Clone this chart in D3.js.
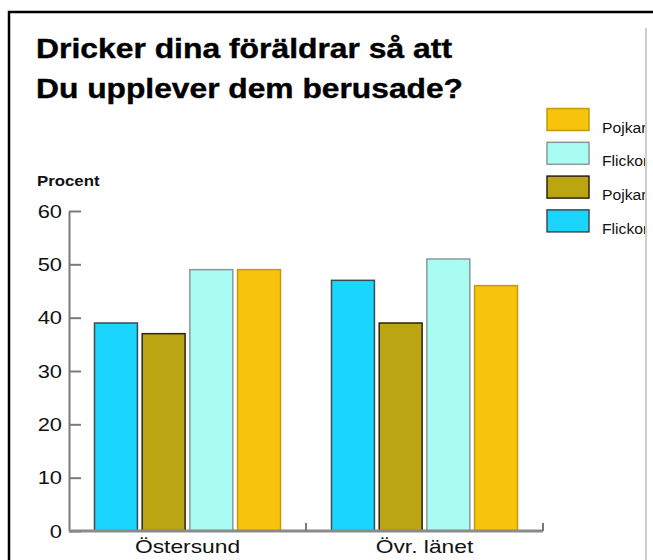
<!DOCTYPE html>
<html>
<head>
<meta charset="utf-8">
<script src="https://cdn.jsdelivr.net/npm/d3@7"></script>
<style>
  body { margin: 0; background: #fff; }
  svg { display: block; font-family: "Liberation Sans", Arial, sans-serif; }
</style>
</head>
<body>
<div id="chart"></div>
<script>
// data
var categories = ["Östersund", "Övr. länet"];
var seriesNames = ["Flickor", "Pojkar", "Flickor", "Pojkar"];
var flickorA = [39, 47];
var pojkarA = [37, 39];
var flickorB = [49, 51];
var pojkarB = [49, 46];
var yTicks = [0, 10, 20, 30, 40, 50, 60];
var titleLines = ["Dricker dina föräldrar så att", "Du upplever dem berusade?"];

var seriesValues = [flickorA, pojkarA, flickorB, pojkarB];
var fills = ["#1ad6fe", "#bba512", "#a8fcf2", "#f7c40b"];
var strokes = ["#3c4a50", "#2a2410", "#8a9a98", "#c49a08"];

var W = 653, H = 560;
var STRETCH = 1.15; // the original text is a bit wide

// widen text horizontally by a factor, keeping the font height
function stretch(sel, f) {
	sel.each(function() {
		var w = this.getComputedTextLength();
		d3.select(this)
			.attr("textLength", w * f)
			.attr("lengthAdjust", "spacingAndGlyphs");
	});
}

var svg = d3.select("#chart").append("svg")
	.attr("width", W)
	.attr("height", H);

// outer frame and grey divider
svg.append("rect")
	.attr("x", 9).attr("y", 12)
	.attr("width", 700).attr("height", 600)
	.attr("fill", "none")
	.attr("stroke", "#000")
	.attr("stroke-width", 2.5);

svg.append("line")
	.attr("x1", 646).attr("x2", 646)
	.attr("y1", 28).attr("y2", H)
	.attr("stroke", "#cfcfcf")
	.attr("stroke-width", 2);

// title
svg.selectAll("text.title")
	.data(titleLines)
	.enter().append("text")
		.attr("class", "title")
		.attr("x", 36)
		.attr("y", function(d, i) { return 58 + i * 40; })
		.attr("font-size", 28)
		.attr("font-weight", "bold")
		.attr("fill", "#000")
		.attr("stroke", "#000")
		.attr("stroke-width", 0.4)
		.attr("textLength", function(d, i) { return i == 0 ? 416 : 427; })
		.attr("lengthAdjust", "spacingAndGlyphs")
		.text(function(d) { return d; });

// scales
var x0 = d3.scaleBand().domain(categories).range([69, 543]);
var x1 = d3.scaleBand().domain(d3.range(seriesNames.length))
	.range([25.5, x0.bandwidth() - 25.5])
	.paddingInner(0.1);
var y = d3.scaleLinear().domain([0, 60]).range([531, 211]);

// y axis label
svg.append("text")
	.attr("x", 37).attr("y", 186)
	.attr("font-size", 15)
	.attr("font-weight", "bold")
	.attr("fill", "#111")
	.text("Procent")
	.call(stretch, 1.12);

// y axis
var yAxis = svg.append("g")
	.attr("transform", "translate(69,0)")
	.call(d3.axisLeft(y).tickValues(yTicks).tickSizeInner(-12).tickSizeOuter(0).tickPadding(7));
yAxis.select(".domain").attr("stroke", "#7a7a7a").attr("stroke-width", 2);
yAxis.selectAll(".tick line").attr("stroke", "#7a7a7a").attr("stroke-width", 2);
yAxis.selectAll(".tick text")
	.attr("font-size", 19)
	.attr("fill", "#111")
	.attr("font-family", "Liberation Sans, Arial, sans-serif")
	.call(stretch, STRETCH);

// bars
var groups = svg.selectAll("g.cat")
	.data(categories)
	.enter().append("g")
		.attr("class", "cat")
		.attr("transform", function(d) { return "translate(" + x0(d) + ",0)"; });

groups.selectAll("rect")
	.data(function(d, ci) {
		return seriesValues.map(function(vals, si) { return { s: si, v: vals[ci] }; });
	})
	.enter().append("rect")
		.attr("x", function(d) { return x1(d.s); })
		.attr("y", function(d) { return y(d.v); })
		.attr("width", x1.bandwidth())
		.attr("height", function(d) { return y(0) - y(d.v); })
		.attr("fill", function(d) { return fills[d.s]; })
		.attr("stroke", function(d) { return strokes[d.s]; })
		.attr("stroke-width", 1.5);

// x axis
svg.append("line")
	.attr("x1", 69).attr("x2", x0.range()[1])
	.attr("y1", y(0)).attr("y2", y(0))
	.attr("stroke", "#8a8a8a")
	.attr("stroke-width", 3);

svg.selectAll("line.xtick")
	.data(categories)
	.enter().append("line")
		.attr("class", "xtick")
		.attr("x1", function(d) { return x0(d) + x0.bandwidth(); })
		.attr("x2", function(d) { return x0(d) + x0.bandwidth(); })
		.attr("y1", y(0)).attr("y2", y(0) - 8)
		.attr("stroke", "#7a7a7a")
		.attr("stroke-width", 2);

svg.selectAll("text.xlab")
	.data(categories)
	.enter().append("text")
		.attr("class", "xlab")
		.attr("x", function(d) { return x0(d) + x0.bandwidth() / 2; })
		.attr("y", 553)
		.attr("text-anchor", "middle")
		.attr("font-size", 19)
		.attr("fill", "#111")
		.text(function(d) { return d; })
		.call(stretch, 1.2);

// legend (reverse order), clipped at divider
svg.append("clipPath")
	.attr("id", "legend-clip")
	.append("rect")
	.attr("x", 530).attr("y", 90).attr("width", 115).attr("height", 160);

var legend = svg.append("g").attr("clip-path", "url(#legend-clip)");
var order = d3.range(seriesNames.length).reverse();
var items = legend.selectAll("g")
	.data(order)
	.enter().append("g")
		.attr("transform", function(d, i) { return "translate(547," + (108.5 + i * 33.8) + ")"; });

items.append("rect")
	.attr("width", 42).attr("height", 22)
	.attr("fill", function(d) { return fills[d]; })
	.attr("stroke", function(d) { return strokes[d]; })
	.attr("stroke-width", 1.5);

items.append("text")
	.attr("x", 55).attr("y", 24)
	.attr("font-size", 14)
	.attr("fill", "#111")
	.text(function(d) { return seriesNames[d]; })
	.call(stretch, 1.12);
</script>
</body>
</html>
